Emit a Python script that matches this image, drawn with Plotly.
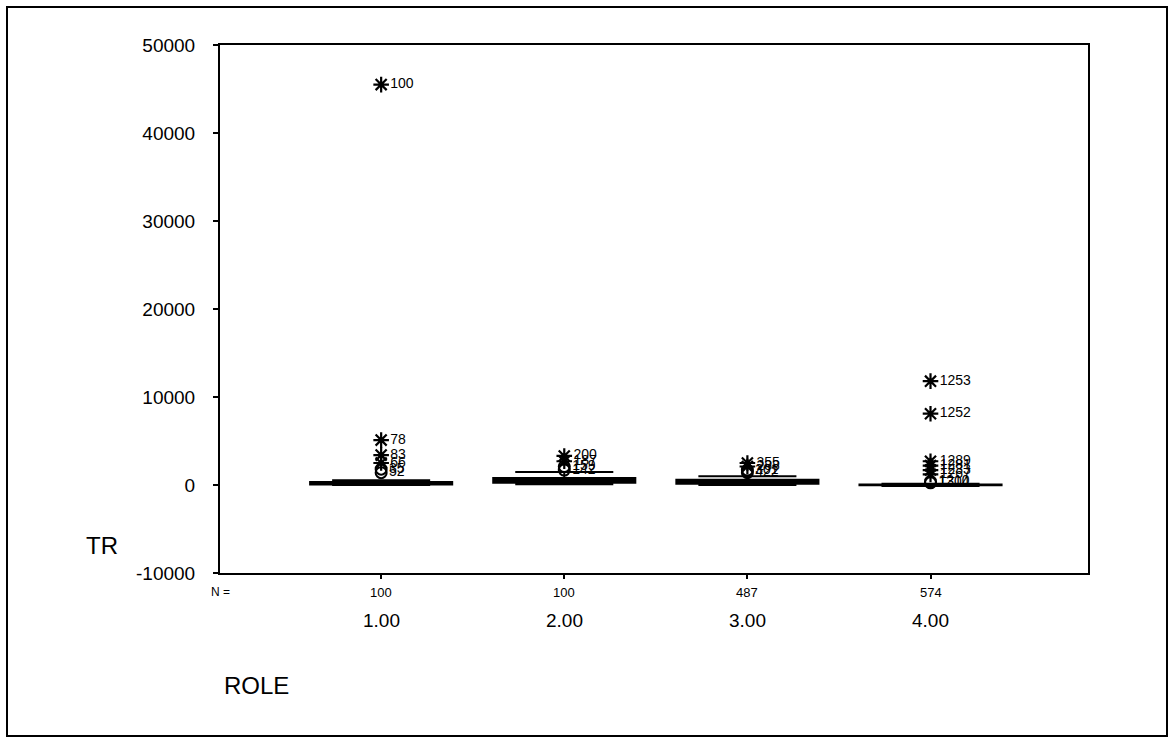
import plotly.graph_objects as go

# ---------------- data ----------------
roles = ["1.00", "2.00", "3.00", "4.00"]
n_counts = [100, 100, 487, 574]
q1 = [60, 250, 150, -40]
median = [150, 500, 350, 10]
q3 = [350, 800, 600, 60]
lower_whisker = [0, 80, 0, -100]
upper_whisker = [550, 1480, 1000, 150]

# outliers (circles) and extremes (asterisks) per group, with case labels
outlier_vals = [[1800, 1400], [2100, 1700], [1700, 1400], [400, 250]]
outlier_ids = [["35", "52"], ["159", "142"], ["301", "422"], ["1210", "1304"]]
extreme_vals = [[45500, 5100, 3400, 2500],
                [3300, 2700],
                [2500, 2100],
                [11800, 8100, 2700, 2200, 1700, 1200]]
extreme_ids = [["100", "78", "83", "66"],
               ["200", "187"],
               ["355", "288"],
               ["1253", "1252", "1289", "1281", "1233", "1267"]]

y_ticks = [50000, 40000, 30000, 20000, 10000, 0, -10000]
y_ticktext = ["50000", "40000", "30000", "20000", "10000", "0", "-10000"]

FONT = "Liberation Sans, Arial, sans-serif"
positions = list(range(1, len(roles) + 1))

fig = go.Figure()

for i, pos in enumerate(positions):
    fig.add_trace(go.Box(
        x=[pos], q1=[q1[i]], median=[median[i]], q3=[q3[i]],
        lowerfence=[lower_whisker[i]], upperfence=[upper_whisker[i]],
        width=0.776, whiskerwidth=0.69,
        line=dict(color="black", width=2), fillcolor="black",
        boxpoints=False, showlegend=False, hoverinfo="skip",
    ))
    fig.add_trace(go.Scatter(
        x=[pos] * len(outlier_vals[i]), y=outlier_vals[i],
        mode="markers+text", text=outlier_ids[i], textposition="middle right",
        textfont=dict(family=FONT, size=14, color="black"),
        marker=dict(symbol="circle-open", size=11, color="black", line=dict(width=2, color="black")),
        showlegend=False, hoverinfo="skip",
    ))
    fig.add_trace(go.Scatter(
        x=[pos] * len(extreme_vals[i]), y=extreme_vals[i],
        mode="markers+text", text=extreme_ids[i], textposition="middle right",
        textfont=dict(family=FONT, size=14, color="black"),
        marker=dict(symbol="asterisk-open", size=13, color="black", line=dict(width=2.2, color="black")),
        showlegend=False, hoverinfo="skip",
    ))

L, R, T, B = 220, 88, 45, 165
W, H = 1176, 738
pw, ph = W - L - R, H - T - B

def px_x(x):
    return (x - L) / pw

def px_y(y):
    return (H - B - y) / ph

annotations = []
annotations.append(dict(x=px_x(220), y=px_y(592), xref="paper", yref="paper", text="N =",
                        showarrow=False, xanchor="center", yanchor="middle",
                        font=dict(family=FONT, size=12, color="black")))
for i, pos in enumerate(positions):
    annotations.append(dict(x=pos, y=px_y(592), xref="x", yref="paper", text=str(n_counts[i]),
                            showarrow=False, xanchor="center", yanchor="middle",
                            font=dict(family=FONT, size=13, color="black")))
    annotations.append(dict(x=pos, y=px_y(620), xref="x", yref="paper", text=roles[i],
                            showarrow=False, xanchor="center", yanchor="middle",
                            font=dict(family=FONT, size=19, color="black")))
annotations.append(dict(x=px_x(222), y=px_y(685), xref="paper", yref="paper", text="ROLE",
                        showarrow=False, xanchor="left", yanchor="middle",
                        font=dict(family=FONT, size=24, color="black")))
annotations.append(dict(x=px_x(102), y=px_y(545), xref="paper", yref="paper", text="TR",
                        showarrow=False, xanchor="center", yanchor="middle",
                        font=dict(family=FONT, size=24, color="black")))

fig.update_layout(
    width=W, height=H,
    margin=dict(l=L, r=R, t=T, b=B),
    paper_bgcolor="white", plot_bgcolor="white",
    font=dict(family=FONT, color="black"),
    annotations=annotations,
    shapes=[dict(type="rect", xref="paper", yref="paper",
                 x0=px_x(7), x1=px_x(1167), y0=px_y(736), y1=px_y(7),
                 line=dict(color="black", width=2), fillcolor="rgba(0,0,0,0)", layer="below")],
    xaxis=dict(range=[0.12, 4.86], tickvals=positions, showticklabels=False,
               ticks="outside", ticklen=4, tickwidth=2, tickcolor="black",
               showline=True, linecolor="black", linewidth=2, mirror=True,
               showgrid=False, zeroline=False),
    yaxis=dict(range=[-10000, 50000], tickvals=y_ticks, ticktext=y_ticktext,
               ticks="outside", ticklen=5, tickwidth=2, tickcolor="black",
               ticklabelstandoff=14,
               tickfont=dict(family=FONT, size=19, color="black"),
               showline=True, linecolor="black", linewidth=2, mirror=True,
               showgrid=False, zeroline=False),
)

fig.write_html("out.html", config={"displayModeBar": False},
               post_script="document.body.style.margin='0';document.body.style.overflow='hidden';")
